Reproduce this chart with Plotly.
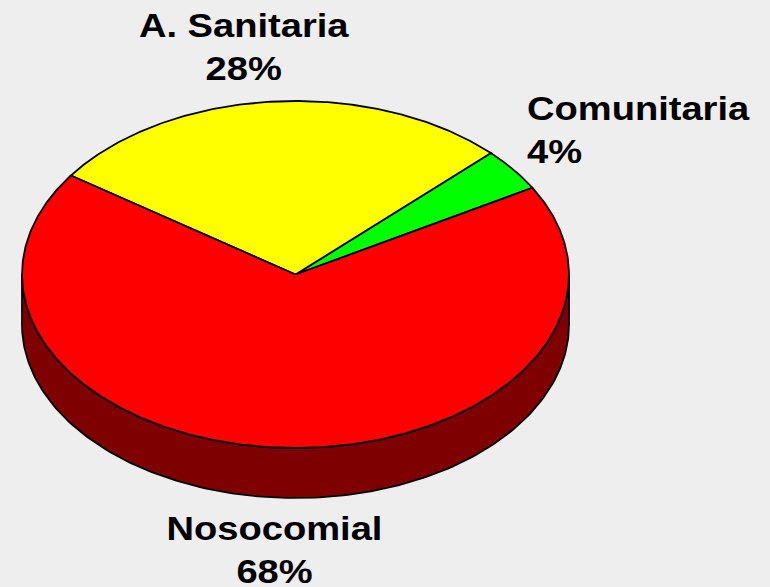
import numpy as np
import plotly.graph_objects as go

categories = ["Comunitaria", "A. Sanitaria", "Nosocomial"]
values = [4, 28, 68]
colors = ["#00ff00", "#ffff00", "#ff0000"]
side_color = "#7f0000"
label_text = ["Comunitaria<br>4%", "A. Sanitaria<br>28%", "Nosocomial<br>68%"]

CX, CY, RX, RY, DEPTH = 295.5, 274.5, 273.5, 173.5, 50
START = 30.0

fig = go.Figure()


def pt(deg, dy=0.0):
    a = np.radians(deg)
    return CX + RX * np.cos(a), CY - RY * np.sin(a) + dy


total = sum(values)
# side wall: visible lower half of the ellipse, extruded
t = np.linspace(180, 360, 181)
x_top, y_top = pt(t)
x_bot, y_bot = pt(t, DEPTH)
fig.add_trace(go.Scatter(
    x=np.r_[x_top, x_bot[::-1], x_top[0]], y=np.r_[y_top, y_bot[::-1], y_top[0]],
    mode="lines", fill="toself", fillcolor=side_color,
    line=dict(color="black", width=1.8), hoverinfo="skip", showlegend=False))

ang = START
for name, v, c in zip(categories, values, colors):
    sweep = 360 * v / total
    t = np.linspace(ang, ang + sweep, max(int(sweep * 2), 8))
    xs, ys = pt(t)
    fig.add_trace(go.Scatter(
        x=np.r_[CX, xs, CX], y=np.r_[CY, ys, CY],
        mode="lines", fill="toself", fillcolor=c, name=name,
        line=dict(color="black", width=1.8), showlegend=False))
    ang += sweep

label_pos = [(526, 130, "left"), (244, 47, "center"), (274.5, 550, "center")]
for txt, (lx, ly, al) in zip(label_text, label_pos):
    fig.add_annotation(x=lx, y=ly, text=txt, showarrow=False, align=al,
                       xanchor=al, yanchor="middle", xref="x", yref="y", borderpad=0,
                       font=dict(family="Liberation Sans", size=33, color="black", weight="bold"))

fig.update_layout(
    width=770, height=587, autosize=False,
    margin=dict(l=0, r=0, t=0, b=0),
    paper_bgcolor="#eeeeee", plot_bgcolor="#eeeeee",
    xaxis=dict(range=[0, 770], visible=False, fixedrange=True),
    yaxis=dict(range=[587, 0], visible=False, fixedrange=True),
)

post = """
document.body.style.margin = '0';
document.body.style.overflow = 'hidden';
document.body.style.background = '#eeeeee';
document.querySelectorAll('text.annotation-text').forEach(function (t, i) {
  t.style.transformBox = 'fill-box';
  t.style.transformOrigin = i === 0 ? 'left center' : 'center center';
  t.style.transform = 'scaleX(1.155)';
});
"""
fig.write_html("out.html", config={"displayModeBar": False}, post_script=post)
